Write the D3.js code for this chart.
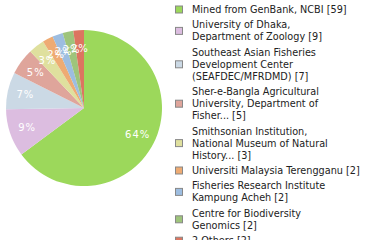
<!DOCTYPE html>
<html>
<head>
<meta charset="utf-8">
<script src="https://cdn.jsdelivr.net/npm/d3@7"></script>
<style>
	body { margin: 0; background: #fff; }
	svg { display: block; font-family: "DejaVu Sans", sans-serif; }
	.slice-label { fill: #fff; font-size: 10px; letter-spacing: 1px; }
	.legend text { fill: #222; font-size: 9.7px; }
	.legend rect { stroke: #888; stroke-width: 1; }
</style>
</head>
<body>
<div id="chart"></div>
<script>
// data
var labels = [
	["Mined from GenBank, NCBI [59]"],
	["University of Dhaka,", "Department of Zoology [9]"],
	["Southeast Asian Fisheries", "Development Center", "(SEAFDEC/MFRDMD) [7]"],
	["Sher-e-Bangla Agricultural", "University, Department of", "Fisher... [5]"],
	["Smithsonian Institution,", "National Museum of Natural", "History... [3]"],
	["Universiti Malaysia Terengganu [2]"],
	["Fisheries Research Institute", "Kampung Acheh [2]"],
	["Centre for Biodiversity", "Genomics [2]"],
	["2 Others [2]"]
];
var counts = [59, 9, 7, 5, 3, 2, 2, 2, 2];
var colors = ["#9cd85b", "#dcbde0", "#cbd9e5", "#dfa59b", "#dfe09e",
	"#eeab73", "#9dbde0", "#9ec47b", "#dc7560"];

var W = 380, H = 240;
var cx = 84, cy = 108, R = 78;

var svg = d3.select("#chart").append("svg")
	.attr("width", W)
	.attr("height", H);

var total = d3.sum(counts);
var pie = d3.pie().sort(null).value(function(d){ return d; });
var arcs = pie(counts);

var arc = d3.arc().innerRadius(0).outerRadius(R);
var labelArc = d3.arc().innerRadius(R * 0.77).outerRadius(R * 0.77);

var g = svg.append("g")
	.attr("transform", "translate(" + cx + "," + cy + ")");

g.selectAll(".slice")
	.data(arcs)
	.enter().append("path")
	.attr("class", "slice")
	.attr("d", arc)
	.attr("fill", function(d, i){ return colors[i]; });

g.selectAll(".slice-label")
	.data(arcs)
	.enter().append("text")
	.attr("class", "slice-label")
	.attr("text-anchor", "middle")
	.attr("dy", "0.35em")
	.attr("transform", function(d){
		return "translate(" + labelArc.centroid(d) + ")";
	})
	.text(function(d){ return Math.floor(d.value / total * 100) + "%"; });

// legend, each entry as tall as its lines
var lineH = 12, gap = 3.4;
var tops = [];
var y = 4;
labels.forEach(function(l){
	tops.push(y);
	y += l.length * lineH + gap;
});

var legend = svg.append("g").attr("class", "legend");
var item = legend.selectAll(".item")
	.data(labels)
	.enter().append("g")
	.attr("class", "item")
	.attr("transform", function(d, i){ return "translate(175," + tops[i] + ")"; });

item.append("rect")
	.attr("x", 0.5)
	.attr("y", function(d){ return d.length * lineH / 2 - 4; })
	.attr("width", 7)
	.attr("height", 7)
	.attr("fill", function(d, i){ return colors[i]; });

item.append("text")
	.selectAll("tspan")
	.data(function(d){ return d; })
	.enter().append("tspan")
	.attr("x", 17)
	.attr("y", function(d, j){ return j * lineH + 9; })
	.text(function(d){ return d; });
</script>
</body>
</html>
